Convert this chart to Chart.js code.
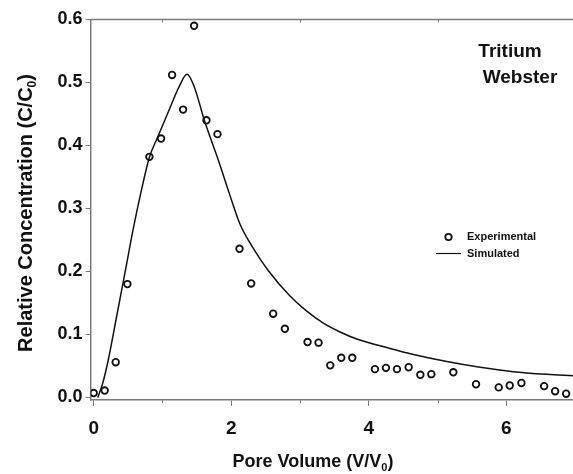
<!DOCTYPE html>
<html>
<head>
<meta charset="utf-8">
<script src="https://cdn.jsdelivr.net/npm/chart.js@4.4.1/dist/chart.umd.min.js"></script>
<style>
  html, body { margin: 0; padding: 0; background: #fff; }
  #myChart { display: block; }
</style>
</head>
<body>
<canvas id="myChart" width="573" height="474"></canvas>
<script>
// experimental breakthrough data (pore volume, C/C0)
const expX = [0, 0.16, 0.32, 0.49, 0.81, 0.98, 1.14, 1.30, 1.46, 1.64, 1.80, 2.12, 2.29, 2.61, 2.78,
    3.11, 3.27, 3.44, 3.60, 3.76, 4.09, 4.25, 4.41, 4.58, 4.75, 4.91, 5.23, 5.56, 5.89, 6.05, 6.22,
    6.55, 6.71, 6.87];
const expY = [0.007, 0.011, 0.056, 0.180, 0.382, 0.411, 0.512, 0.457, 0.590, 0.440, 0.418, 0.236, 0.181, 0.133, 0.109,
    0.088, 0.087, 0.051, 0.063, 0.063, 0.045, 0.047, 0.045, 0.048, 0.036, 0.037, 0.040, 0.021, 0.016, 0.019, 0.023,
    0.018, 0.010, 0.006];

// simulated curve
const simX = [0.06, 0.131, 0.212, 0.324, 0.462, 0.572, 0.684, 0.812, 0.925, 1.095, 1.241, 1.357, 1.463, 1.609,
    1.812, 1.972, 2.128, 2.303, 2.535, 2.855, 3.098, 3.34, 3.583, 3.825, 4.31, 4.65, 5.135, 5.62, 6.10, 6.59, 6.97];
const simY = [0, 0.0225, 0.0595, 0.123, 0.202, 0.266, 0.324, 0.382, 0.412, 0.456, 0.493, 0.513, 0.493, 0.440,
    0.377, 0.324, 0.275, 0.240, 0.202, 0.161, 0.137, 0.118, 0.104, 0.0929, 0.0778, 0.0683, 0.0571, 0.0479, 0.0410,
    0.0368, 0.0346];

const xTicks = [0, 2, 4, 6];
const xMinorTicks = [1, 3, 5];
const yTicks = [0, 0.1, 0.2, 0.3, 0.4, 0.5, 0.6];

const FONT = "'Liberation Sans', Arial, sans-serif";
const axisGray = '#7a7a7a';

function toPoints(xs, ys) {
    var pts = [];
    for (var i = 0; i < xs.length; i++) {
        pts.push({ x: xs[i], y: ys[i] });
    }
    return pts;
}

// draws the bits Chart.js has no option for: top frame, minor ticks, texts with subscripts, legend
const extras = {
    id: 'extras',
    afterDraw(chart) {
        const c = chart.ctx;
        const area = chart.chartArea;
        const xs = chart.scales.x;
        c.save();

        // top frame line
        c.strokeStyle = axisGray;
        c.lineWidth = 1.5;
        c.beginPath();
        c.moveTo(area.left, area.top);
        c.lineTo(area.right, area.top);
        c.stroke();

        // minor ticks at odd pore volumes
        c.lineWidth = 1;
        xMinorTicks.forEach(function (v) {
            const px = Math.round(xs.getPixelForValue(v)) + 0.5;
            c.beginPath();
            c.moveTo(px, area.bottom);
            c.lineTo(px, area.bottom + 3);
            c.moveTo(px, area.top);
            c.lineTo(px, area.top + 3);
            c.stroke();
        });

        c.fillStyle = '#111';
        c.textBaseline = 'alphabetic';

        // plot label
        c.font = 'bold 19px ' + FONT;
        c.textAlign = 'center';
        c.fillText('Tritium', 510, 57);
        c.fillText('Webster', 520, 83);

        // text with a subscript zero, centred at (cx, base)
        function subText(pre, sub, post, cx, base, size, subSize) {
            c.font = 'bold ' + size + 'px ' + FONT;
            const w1 = c.measureText(pre).width;
            const w3 = c.measureText(post).width;
            c.font = 'bold ' + subSize + 'px ' + FONT;
            const w2 = c.measureText(sub).width;
            let x = cx - (w1 + w2 + w3) / 2;
            c.textAlign = 'left';
            c.font = 'bold ' + size + 'px ' + FONT;
            c.fillText(pre, x, base);
            x += w1;
            c.font = 'bold ' + subSize + 'px ' + FONT;
            c.fillText(sub, x, base + 4);
            x += w2;
            c.font = 'bold ' + size + 'px ' + FONT;
            c.fillText(post, x, base);
        }

        // x axis title
        subText('Pore Volume (V/V', '0', ')', 313, 467, 18, 11);

        // y axis title
        c.save();
        c.translate(32, 213);
        c.rotate(-Math.PI / 2);
        subText('Relative Concentration (C/C', '0', ')', 0, 0, 20, 12);
        c.restore();

        // legend
        const ds0 = chart.data.datasets[0];
        const ds1 = chart.data.datasets[1];
        c.font = 'bold 11px ' + FONT;
        c.textAlign = 'left';
        c.textBaseline = 'middle';
        c.strokeStyle = '#111';
        c.lineWidth = 1.8;
        c.beginPath();
        c.arc(448.5, 237, 3.2, 0, Math.PI * 2);
        c.stroke();
        c.fillText(ds0.label, 467, 237);
        c.lineWidth = 1.2;
        c.beginPath();
        c.moveTo(436, 253.5);
        c.lineTo(461, 253.5);
        c.stroke();
        c.fillText(ds1.label, 467, 254);

        c.restore();
    }
};

new Chart(document.getElementById('myChart'), {
    type: 'scatter',
    data: {
        datasets: [{
            label: 'Experimental',
            data: toPoints(expX, expY),
            showLine: false,
            pointStyle: 'circle',
            pointRadius: 3.3,
            pointBorderWidth: 1.8,
            pointBorderColor: '#111',
            pointBackgroundColor: 'rgba(255,255,255,0)',
            order: 1
        }, {
            label: 'Simulated',
            data: toPoints(simX, simY),
            showLine: true,
            borderColor: '#111',
            borderWidth: 1.5,
            pointRadius: 0,
            cubicInterpolationMode: 'monotone',
            order: 2
        }]
    },
    options: {
        responsive: false,
        animation: false,
        layout: { autoPadding: false, padding: { top: 19.5, right: 0, left: 0, bottom: 0 } },
        plugins: {
            legend: { display: false },
            tooltip: { enabled: false }
        },
        scales: {
            x: {
                type: 'linear',
                min: -0.045,
                max: 6.97,
                afterBuildTicks: function (s) { s.ticks = xTicks.map(function (v) { return { value: v }; }); },
                afterFit: function (s) { s.height = 74; s.paddingRight = 0; s.paddingLeft = 0; },
                ticks: {
                    color: '#111',
                    padding: 11,
                    maxRotation: 0,
                    font: { family: FONT, size: 19, weight: 'bold' },
                    callback: function (v) { return String(v); }
                },
                grid: { drawOnChartArea: false, tickLength: 6, tickColor: axisGray, tickWidth: 1 },
                border: { color: axisGray, width: 1.5 }
            },
            y: {
                type: 'linear',
                min: -0.004,
                max: 0.6,
                afterBuildTicks: function (s) { s.ticks = yTicks.map(function (v) { return { value: v }; }); },
                afterFit: function (s) { s.width = 90.6; },
                ticks: {
                    color: '#111',
                    padding: 3,
                    font: { family: FONT, size: 18, weight: 'bold' },
                    callback: function (v) { return Number(v).toFixed(1); }
                },
                grid: { drawOnChartArea: false, tickLength: 5, tickColor: axisGray, tickWidth: 1 },
                border: { color: axisGray, width: 1.5 }
            }
        }
    },
    plugins: [extras]
});
</script>
</body>
</html>
